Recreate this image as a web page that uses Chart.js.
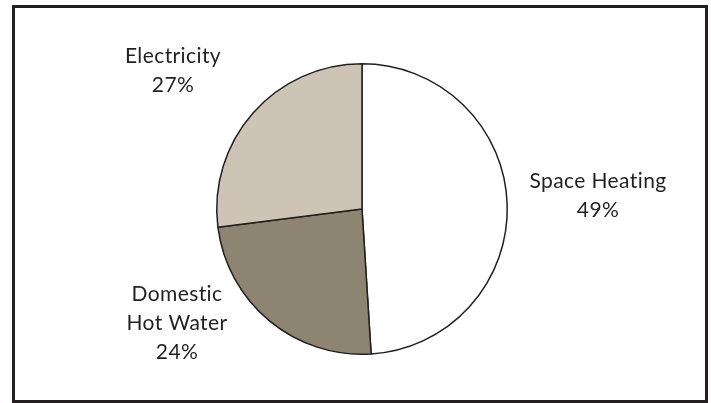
<!DOCTYPE html>
<html>
<head>
<meta charset="utf-8">
<script src="https://cdn.jsdelivr.net/npm/chart.js@4.4.1/dist/chart.umd.min.js"></script>
<style>
  html, body { margin: 0; padding: 0; background: #fff; }
  body { width: 711px; height: 403px; position: relative; overflow: hidden; }
  #frame {
    position: absolute; left: 12px; top: 5px;
    width: 690px; height: 392px;
    border: 3px solid #231f20;
  }
  #wrap { position: absolute; left: 0; top: 0; width: 711px; height: 403px; }
</style>
</head>
<body>
<div id="frame"></div>
<div id="wrap"><canvas id="pie"></canvas></div>
<script>
// 数据
const categories = ['Space Heating', 'Domestic Hot Water', 'Electricity'];
const labelLines = [['Space Heating'], ['Domestic', 'Hot Water'], ['Electricity']];
const shares = [49, 24, 27];
const sliceColors = ['#ffffff', '#8e8472', '#cec4b6'];

// 标签中心相对饼图圆心的偏移
const labelOffsets = [[236, -13], [-185, 114], [-189, -138]];

/**
 * 绘制扇区标签
 */
const sliceLabels = {
  id: 'sliceLabels',
  afterDraw(chart) {
    const ctx = chart.ctx;
    const arc = chart.getDatasetMeta(0).data[0];
    const cx = arc.x, cy = arc.y;
    const lineH = 29;
    ctx.save();
    ctx.fillStyle = '#231f20';
    ctx.font = '21px Lato';
    ctx.letterSpacing = '0.4px'; // 同时关闭 ti 连字
    ctx.textAlign = 'center';
    ctx.textBaseline = 'middle';
    categories.forEach((name, i) => {
      const lines = labelLines[i].concat([shares[i] + '%']);
      const x = cx + labelOffsets[i][0];
      const y0 = cy + labelOffsets[i][1] - (lines.length - 1) * lineH / 2;
      lines.forEach((t, j) => ctx.fillText(t, x, y0 + j * lineH));
    });
    ctx.restore();
  }
};

new Chart(document.getElementById('pie'), {
  type: 'pie',
  data: {
    labels: categories,
    datasets: [{
      data: shares,
      backgroundColor: sliceColors,
      borderColor: '#231f20',
      borderWidth: 1.5,
      hoverOffset: 0
    }]
  },
  options: {
    responsive: true,
    maintainAspectRatio: false,
    animation: false,
    layout: { padding: { top: 63, bottom: 48, left: 216, right: 203 } },
    plugins: {
      legend: { display: false },
      tooltip: { enabled: false }
    }
  },
  plugins: [sliceLabels]
});
</script>
</body>
</html>
